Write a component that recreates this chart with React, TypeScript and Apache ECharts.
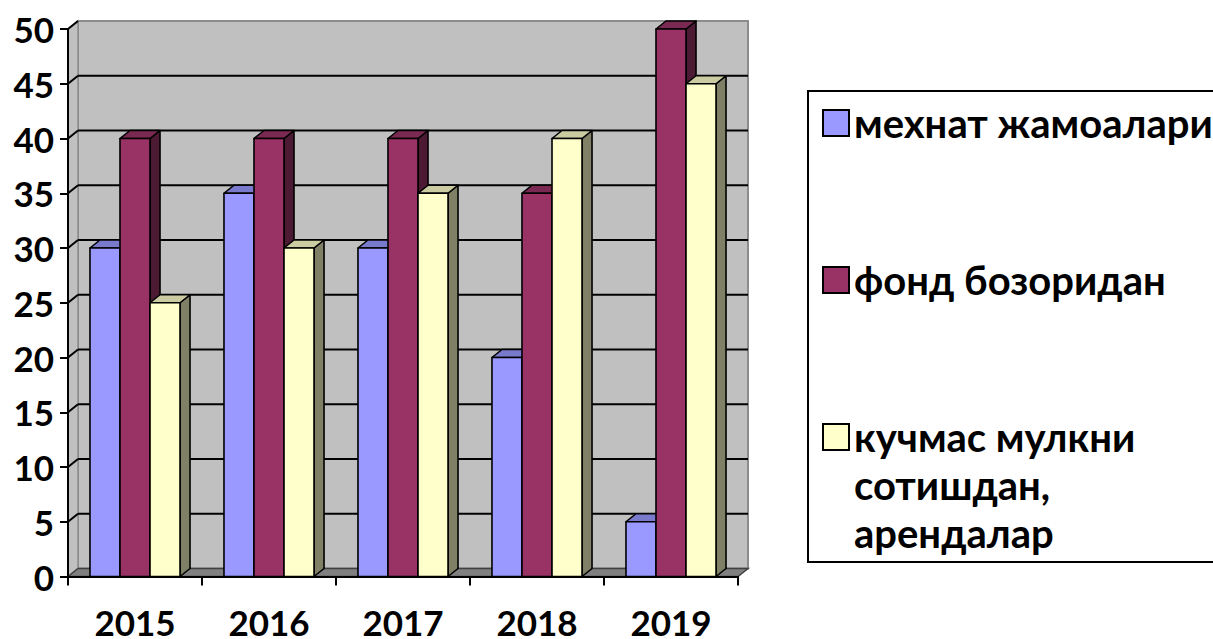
import React, { useEffect, useRef } from "react";
import * as echarts from "echarts";

const categories = ["2015", "2016", "2017", "2018", "2019"];
const seriesNames = ["мехнат жамоалари", "фонд бозоридан", "кучмас мулкни сотишдан, арендалар"];
const labourValues = [30, 35, 30, 20, 5];
const fundValues = [40, 40, 40, 35, 50];
const propertyValues = [25, 30, 35, 40, 45];
const yTicks = [0, 5, 10, 15, 20, 25, 30, 35, 40, 45, 50];

const FONT = "Lato, Roboto, sans-serif";
const DX = 10;
const DY = -8;

const palettes = [
  { front: "#9999ff", top: "#7a7acc", side: "#5c5c99" },
  { front: "#993366", top: "#7a2952", side: "#4d1a33" },
  { front: "#ffffcc", top: "#cccca3", side: "#808066" },
];

function makeBarRenderer(idx: number) {
  const pal = palettes[idx];
  return (params: any, api: any) => {
    const cat = api.value(0);
    const val = api.value(1);
    const base = api.coord([cat, 0]);
    const top = api.coord([cat, val]);
    const band = api.size([1, 0])[0];
    const bw = band * 0.224;
    const x0 = base[0] + (idx - 1.5) * bw;
    const x1 = x0 + bw;
    const ty = top[1];
    const by = base[1];
    const stroke = { stroke: "#000", lineWidth: 1.6, lineJoin: "round" };
    return {
      type: "group",
      children: [
        {
          type: "polygon",
          shape: { points: [[x1, ty], [x1 + DX, ty + DY], [x1 + DX, by + DY], [x1, by]] },
          style: { fill: pal.side, ...stroke },
        },
        {
          type: "polygon",
          shape: { points: [[x0, ty], [x0 + DX, ty + DY], [x1 + DX, ty + DY], [x1, ty]] },
          style: { fill: pal.top, ...stroke },
        },
        {
          type: "rect",
          shape: { x: x0, y: ty, width: bw, height: by - ty },
          style: { fill: pal.front, ...stroke },
        },
      ],
    };
  };
}

function renderWalls(params: any, api: any) {
  const cs = params.coordSys;
  const X = cs.x;
  const Y = cs.y;
  const W = cs.width;
  const H = cs.height;
  const children: any[] = [];
  children.push({
    type: "rect",
    shape: { x: X + DX, y: Y + DY, width: W, height: H },
    style: { fill: "#c0c0c0", stroke: "#8c8c8c", lineWidth: 2 },
  });
  children.push({
    type: "polygon",
    shape: { points: [[X, Y], [X + DX, Y + DY], [X + DX, Y + H + DY], [X, Y + H]] },
    style: { fill: "#c0c0c0", stroke: "#8c8c8c", lineWidth: 1.5 },
  });
  yTicks.forEach((t) => {
    const y = api.coord([0, t])[1];
    if (t > 0 && t < 50) {
      children.push({
        type: "line",
        shape: { x1: X + DX, y1: y + DY, x2: X + W + DX, y2: y + DY },
        style: { stroke: "#000", lineWidth: 2 },
      });
    }
    if (t > 0) {
      children.push({
        type: "line",
        shape: { x1: X, y1: y, x2: X + DX, y2: y + DY },
        style: { stroke: "#000", lineWidth: 2 },
      });
    }
  });
  children.push({
    type: "polygon",
    shape: { points: [[X, Y + H], [X + DX, Y + H + DY], [X + W + DX, Y + H + DY], [X + W, Y + H]] },
    style: { fill: "#808080", stroke: "#404040", lineWidth: 1.5 },
  });
  return { type: "group", children };
}

const legendText = {
  fontSize: 40,
  fontWeight: "bold" as const,
  fontFamily: FONT,
  color: "#000",
};

export default function App() {
  const ref = useRef<HTMLDivElement>(null);
  useEffect(() => {
    if (!ref.current) return;
    const chart = echarts.init(ref.current, undefined, { renderer: "svg" });
    const valueSets = [labourValues, fundValues, propertyValues];
    const legendBase = {
      left: 817,
      icon: "rect",
      itemWidth: 26,
      itemHeight: 26,
      selectedMode: false,
      itemStyle: { borderColor: "#000", borderWidth: 2 },
      z: 10,
    };
    const option: any = {
      animation: false,
      backgroundColor: "#fff",
      grid: { left: 68, right: 475, top: 29, bottom: 62, containLabel: false },
      xAxis: {
        type: "category",
        data: categories,
        boundaryGap: true,
        axisLine: { show: true, lineStyle: { color: "#000", width: 2 } },
        axisTick: { show: true, length: 9, interval: 0, lineStyle: { color: "#000", width: 2 } },
        axisLabel: {
          margin: 31,
          lineHeight: 28,
          fontSize: 35,
          fontWeight: "bold",
          fontFamily: FONT,
          color: "#000",
        },
        splitLine: { show: false },
        z: 5,
      },
      yAxis: {
        type: "value",
        min: 0,
        max: 50,
        interval: 5,
        axisLine: { show: true, lineStyle: { color: "#000", width: 2 } },
        axisTick: { show: true, length: 8, lineStyle: { color: "#000", width: 2 } },
        axisLabel: { margin: 14, fontSize: 35, fontWeight: "bold", fontFamily: FONT, color: "#000" },
        splitLine: { show: false },
        z: 5,
      },
      graphic: [
        {
          type: "rect",
          shape: { x: 808, y: 91, width: 440, height: 471 },
          style: { fill: "#fff", stroke: "#000", lineWidth: 2 },
          z: 0,
        },
      ],
      legend: [
        { ...legendBase, data: [seriesNames[0]], top: 98, textStyle: legendText },
        { ...legendBase, data: [seriesNames[1]], top: 255, textStyle: legendText },
        {
          ...legendBase,
          data: [seriesNames[2]],
          top: 312,
          formatter: () => "\n\nкучмас мулкни\nсотишдан,\nарендалар",
          textStyle: { ...legendText, lineHeight: 48 },
        },
      ],
      series: [
        {
          type: "custom",
          name: "walls",
          silent: true,
          z: -5,
          data: [[0, 0]],
          renderItem: renderWalls,
        },
        ...valueSets.map((vals, i) => ({
          type: "custom",
          name: seriesNames[i],
          z: 3 + i,
          itemStyle: { color: palettes[i].front, borderColor: "#000" },
          encode: { x: 0, y: 1 },
          data: vals.map((v, j) => [j, v]),
          renderItem: makeBarRenderer(i),
        })),
      ],
    };
    chart.setOption(option);
    return () => chart.dispose();
  }, []);
  return (
    <div
      ref={ref}
      style={{ position: "fixed", left: 0, top: 0, width: 1213, height: 639 }}
    />
  );
}
